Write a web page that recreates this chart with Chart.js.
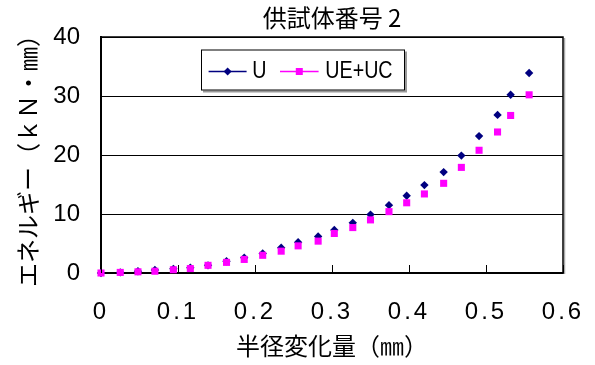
<!DOCTYPE html>
<html>
<head>
<meta charset="utf-8">
<script src="https://cdn.jsdelivr.net/npm/chart.js@4/dist/chart.umd.min.js"></script>
<style>
  html, body { margin: 0; padding: 0; background: #fff; }
  canvas { display: block; }
</style>
</head>
<body>
<canvas id="chart" width="595" height="365"></canvas>
<script>
// 半径変化量 (mm)
const radiusChange = [0, 0.025, 0.048, 0.070, 0.094, 0.116, 0.139, 0.163, 0.186, 0.210, 0.234, 0.256, 0.282,
                      0.303, 0.327, 0.350, 0.374, 0.397, 0.420, 0.445, 0.468, 0.491, 0.515, 0.532, 0.556];
// エネルギー (kN・mm)
const energyU = [0, 0.1, 0.3, 0.5, 0.7, 0.9, 1.3, 2.0, 2.6, 3.3, 4.3, 5.2, 6.2,
                 7.3, 8.5, 9.9, 11.5, 13.1, 14.9, 17.1, 19.9, 23.2, 26.8, 30.2, 33.9];
const energyUEUC = [0, 0.1, 0.2, 0.3, 0.55, 0.75, 1.3, 1.8, 2.3, 3.0, 3.7, 4.6, 5.4,
                    6.7, 7.7, 9.0, 10.4, 11.9, 13.4, 15.2, 17.9, 20.8, 23.9, 26.7, 30.2];
const seriesNames = ['U', 'UE+UC'];
const xTickLabels = ['0', '0.1', '0.2', '0.3', '0.4', '0.5', '0.6'];
const yTickLabels = ['0', '10', '20', '30', '40'];

const numFont = 'Liberation Sans, Arial, sans-serif';
const jpFont = '"Noto Sans CJK JP", sans-serif';

function toPoints(xs, ys) {
  return xs.map((x, i) => ({ x: x, y: ys[i] }));
}

// frame, inward x ticks, boxed legend
const excelLook = {
  id: 'excelLook',
  beforeDraw(chart) {
    const xs = chart.scales.x;
    if (!xs._spaced) {
      const orig = xs.drawLabels.bind(xs);
      xs.drawLabels = function (area) {
        const c = this.ctx;
        c.save();
        c.letterSpacing = '3px';
        orig(area);
        c.restore();
      };
      xs._spaced = true;
    }
  },
  afterDatasetsDraw(chart) {
    const ctx = chart.ctx;
    const a = chart.chartArea;
    const xs = chart.scales.x;
    ctx.save();
    // top + right border with grey shadow
    ctx.strokeStyle = '#aaa';
    ctx.lineWidth = 1.5;
    ctx.beginPath();
    ctx.moveTo(a.right + 1.5, a.top + 1);
    ctx.lineTo(a.right + 1.5, a.bottom + 1);
    ctx.stroke();
    ctx.strokeStyle = '#000';
    ctx.lineWidth = 1.5;
    ctx.beginPath();
    ctx.moveTo(a.left, a.top);
    ctx.lineTo(a.right, a.top);
    ctx.lineTo(a.right, a.bottom);
    ctx.stroke();
    // inward tick marks
    ctx.lineWidth = 1;
    xs.ticks.forEach(t => {
      const px = Math.round(xs.getPixelForValue(t.value)) + 0.5;
      ctx.beginPath();
      ctx.moveTo(px, a.bottom);
      ctx.lineTo(px, a.bottom - 8);
      ctx.stroke();
    });
    ctx.restore();
  },
  afterDraw(chart) {
    const ctx = chart.ctx;
    const a = chart.chartArea;
    const L = a.left + 100, T = a.top + 12.5, W = 204, H = 41;
    ctx.save();
    ctx.fillStyle = '#999';
    ctx.fillRect(L + 2, T + 2, W, H);
    ctx.fillStyle = '#fff';
    ctx.fillRect(L, T, W, H);
    ctx.strokeStyle = '#000';
    ctx.lineWidth = 1;
    ctx.strokeRect(L + 0.5, T + 0.5, W - 1, H - 1);
    const cy = T + 22;
    const items = [
      { ds: chart.data.datasets[0], x0: 7.6, x1: 45.6, tx: 51.3, shape: 'diamond' },
      { ds: chart.data.datasets[1], x0: 79, x1: 117.6, tx: 124.3, shape: 'square' }
    ];
    items.forEach(it => {
      const col = it.ds.backgroundColor;
      ctx.strokeStyle = col;
      ctx.lineWidth = 1.5;
      ctx.beginPath();
      ctx.moveTo(L + it.x0, cy);
      ctx.lineTo(L + it.x1, cy);
      ctx.stroke();
      const mx = L + (it.x0 + it.x1) / 2;
      ctx.fillStyle = col;
      ctx.beginPath();
      if (it.shape === 'diamond') {
        ctx.moveTo(mx, cy - 4);
        ctx.lineTo(mx + 4, cy);
        ctx.lineTo(mx, cy + 4);
        ctx.lineTo(mx - 4, cy);
        ctx.closePath();
      } else {
        ctx.rect(mx - 3.5, cy - 3.5, 7, 7);
      }
      ctx.fill();
      ctx.save();
      ctx.translate(L + it.tx, cy);
      ctx.scale(0.82, 1);
      ctx.fillStyle = '#000';
      ctx.font = '24px ' + numFont;
      ctx.textBaseline = 'middle';
      ctx.fillText(it.ds.label, 0, 0);
      ctx.restore();
    });
    ctx.restore();
  }
};

new Chart(document.getElementById('chart'), {
  type: 'scatter',
  data: {
    datasets: [
      {
        label: seriesNames[0],
        data: toPoints(radiusChange, energyU),
        pointStyle: 'rectRot',
        pointRadius: 4.2,
        backgroundColor: '#000080',
        borderColor: '#000080',
        borderWidth: 0,
        showLine: false,
        clip: false,
        order: 1
      },
      {
        label: seriesNames[1],
        data: toPoints(radiusChange, energyUEUC),
        pointStyle: 'rect',
        pointRadius: 5,
        backgroundColor: '#FF00FF',
        borderColor: '#FF00FF',
        borderWidth: 0,
        showLine: false,
        clip: false,
        order: 0
      }
    ]
  },
  options: {
    responsive: false,
    animation: false,
    devicePixelRatio: 1,
    layout: { padding: 0 },
    plugins: {
      legend: { display: false },
      tooltip: { enabled: false },
      title: {
        display: true,
        text: '供試体番号 2',
        fullSize: false,
        color: '#000',
        font: { family: jpFont, size: 24, weight: 'normal', lineHeight: 1.2 },
        padding: { top: 3, bottom: 5.2 }
      }
    },
    scales: {
      x: {
        type: 'linear',
        min: 0,
        max: 0.6,
        afterFit(s) { s.height = 92; s.paddingRight = 32; s.paddingLeft = 0; },
        grid: { display: false, drawTicks: false },
        border: { display: true, color: '#000', width: 2 },
        ticks: {
          stepSize: 0.1,
          padding: 25,
          color: '#000',
          maxRotation: 0,
          font: { family: numFont, size: 24 },
          callback: (v, i) => xTickLabels[i]
        },
        title: {
          display: true,
          text: '半径変化量（㎜）',
          color: '#000',
          font: { family: jpFont, size: 24, lineHeight: 1.2 },
          padding: { top: 0, bottom: 4.6 }
        }
      },
      y: {
        type: 'linear',
        min: 0,
        max: 40,
        afterFit(s) { s.width = 101; s.paddingTop = 0; s.paddingBottom = 0; },
        grid: { color: '#000', lineWidth: 1, drawTicks: false },
        border: { display: true, color: '#000', width: 2 },
        ticks: {
          stepSize: 10,
          padding: 21,
          color: '#000',
          font: { family: numFont, size: 24 },
          callback: (v, i) => yTickLabels[i]
        },
        title: {
          display: true,
          text: 'エネルギー（ｋＮ・㎜）',
          color: '#000',
          font: { family: jpFont, size: 24, lineHeight: 1.2 },
          padding: { top: 13.6, bottom: 0 }
        }
      }
    }
  },
  plugins: [excelLook]
});
</script>
</body>
</html>
